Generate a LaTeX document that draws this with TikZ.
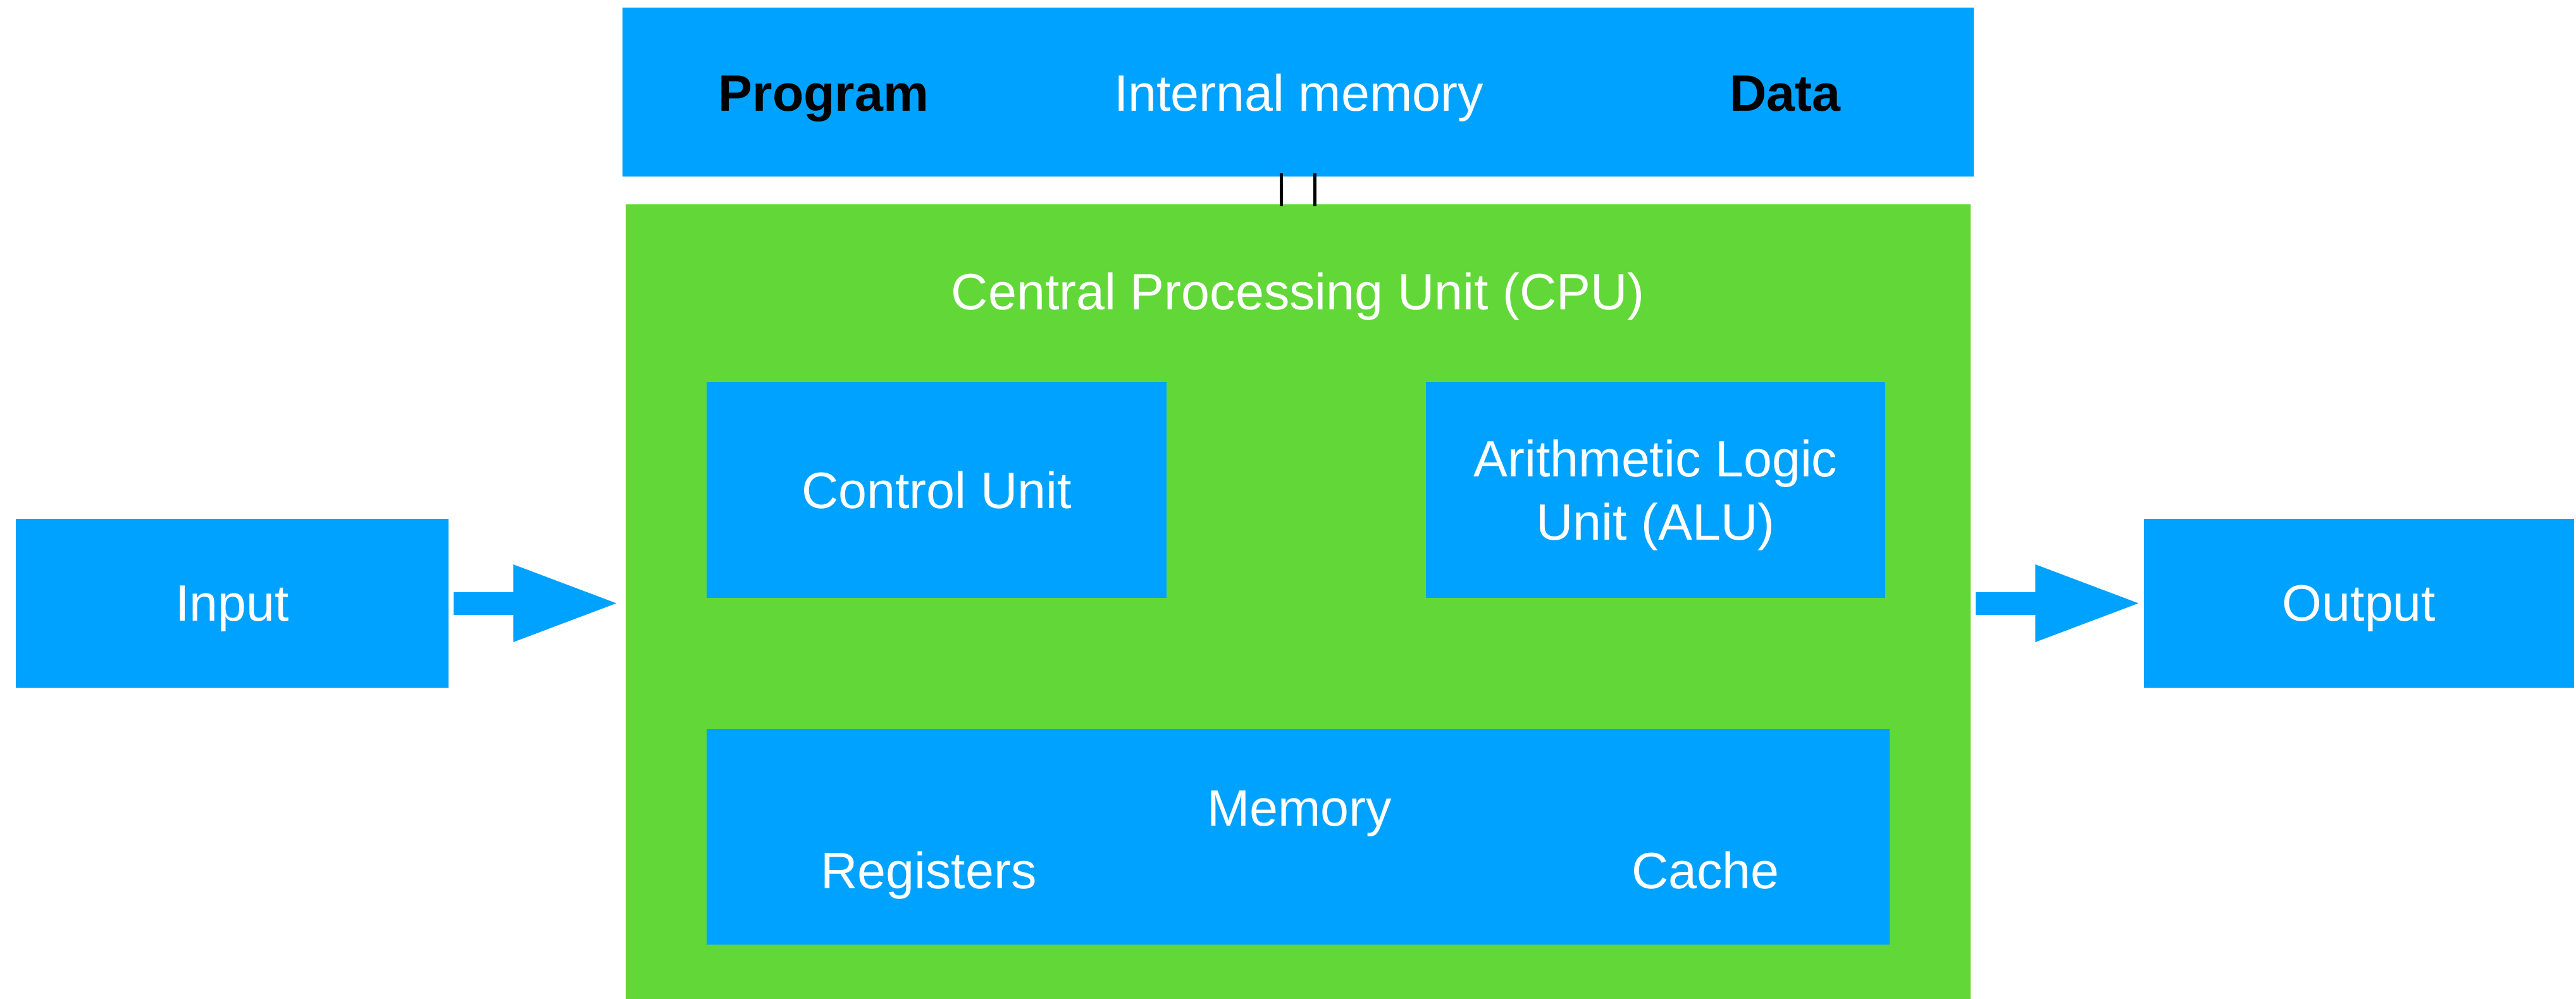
\documentclass[tikz,border=0pt]{standalone}
\usepackage{fontspec}
\setmainfont{Liberation Sans}
\usetikzlibrary{arrows.meta}
\definecolor{boxblue}{RGB}{0,162,255}
\definecolor{cpugreen}{RGB}{98,216,56}
\tikzset{
  box/.style={rectangle,fill=boxblue,text=white,inner sep=0pt,text depth=0pt},
  lbl/.style={text=white,inner sep=0pt,anchor=base},
  flow/.style={boxblue,line width=0.36cm,-{Triangle[length=1.7cm,width=1.11cm]}},
}
\begin{document}
\begin{tikzpicture}[font=\fontsize{23}{28.5}\selectfont]
\useasboundingbox (0,0) rectangle (40.72,-15.79);

\node[box,minimum width=21.36cm,minimum height=2.67cm] (mem) at (20.52,-1.455) {};
\node[lbl,text=black] (prog) at (13.02,-1.75) {\bfseries Program};
\node[lbl] (memname) at (20.53,-1.75) {Internal memory};
\node[lbl,text=black] (data) at (28.22,-1.75) {\bfseries Data};

\node[rectangle,fill=cpugreen,minimum width=21.26cm,minimum height=12.56cm,inner sep=0pt] (cpu) at (20.52,-9.51) {};
\node[lbl] (cpuname) at (20.52,-4.89) {Central Processing Unit (CPU)};

\node[box,minimum width=7.27cm,minimum height=3.41cm] (cu) at (14.805,-7.745) {Control Unit};
\node[box,minimum width=7.26cm,minimum height=3.41cm,align=center] (alu) at (26.17,-7.745) {Arithmetic Logic\\Unit (ALU)};

\node[box,minimum width=18.70cm,minimum height=3.41cm] (cmem) at (20.52,-13.225) {};
\node[lbl] (cmemname) at (20.54,-13.05) {Memory};
\node[lbl] (regs) at (14.68,-14.04) {Registers};
\node[lbl] (cache) at (26.96,-14.04) {Cache};

\node[box,minimum width=6.84cm,minimum height=2.67cm] (in) at (3.67,-9.535) {Input};
\node[box,minimum width=6.80cm,minimum height=2.67cm] (out) at (37.29,-9.535) {Output};

% bus between memory and cpu
\draw[line width=0.05cm] ([xshift=-0.27cm,yshift=0.06cm]mem.south) -- ([xshift=-0.27cm,yshift=-0.04cm]cpu.north);
\draw[line width=0.05cm] ([xshift=0.26cm,yshift=0.06cm]mem.south) -- ([xshift=0.26cm,yshift=-0.04cm]cpu.north);

\draw[flow,shorten <=0.07cm,shorten >=0.07cm] (in.east) -- (in.east -| cpu.west);
\draw[flow,shorten <=0.07cm,shorten >=0.01cm] (cpu.east |- out.west) -- (out.west);
\end{tikzpicture}
\end{document}
